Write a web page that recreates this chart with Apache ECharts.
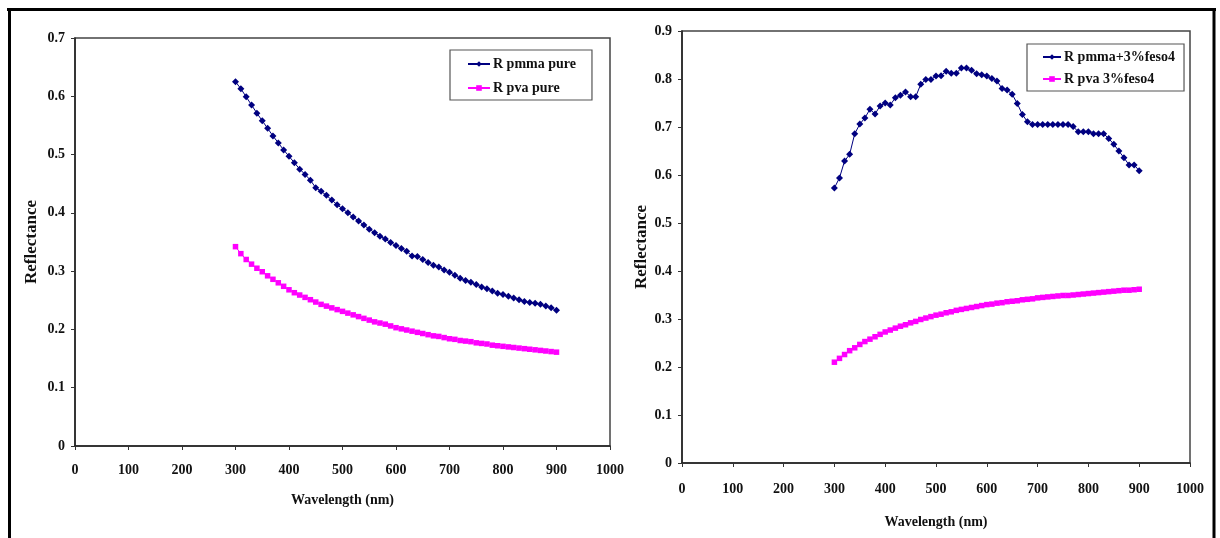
<!DOCTYPE html>
<html>
<head>
<meta charset="utf-8">
<script src="https://cdn.jsdelivr.net/npm/echarts@6/dist/echarts.min.js"></script>
<style>
html,body{margin:0;padding:0;background:#fff;}
#c{width:1220px;height:538px;}
</style>
</head>
<body>
<div id="c"></div>
<script>
// Wavelengths (nm)
var wavelengths = [300,310,320,330,340,350,360,370,380,390,400,410,420,430,440,450,460,470,480,490,500,510,520,530,540,550,560,570,580,590,600,610,620,630,640,650,660,670,680,690,700,710,720,730,740,750,760,770,780,790,800,810,820,830,840,850,860,870,880,890,900];

// Left panel
var pmmaPure = [0.625,0.613,0.599,0.585,0.571,0.558,0.545,0.532,0.520,0.508,0.497,0.486,0.475,0.466,0.456,0.443,0.437,0.430,0.422,0.414,0.407,0.400,0.393,0.386,0.379,0.372,0.366,0.360,0.355,0.349,0.344,0.339,0.334,0.326,0.325,0.320,0.315,0.310,0.307,0.302,0.298,0.293,0.288,0.284,0.281,0.277,0.273,0.270,0.266,0.262,0.260,0.257,0.254,0.251,0.248,0.246,0.245,0.243,0.240,0.237,0.233];
var pvaPure = [0.342,0.330,0.320,0.312,0.305,0.299,0.292,0.286,0.280,0.274,0.268,0.263,0.259,0.255,0.251,0.247,0.243,0.240,0.237,0.234,0.231,0.228,0.225,0.222,0.219,0.216,0.213,0.211,0.209,0.206,0.203,0.201,0.199,0.197,0.195,0.193,0.191,0.189,0.188,0.186,0.184,0.183,0.181,0.180,0.179,0.177,0.176,0.175,0.173,0.172,0.171,0.170,0.169,0.168,0.167,0.166,0.165,0.164,0.163,0.162,0.161];

// Right panel
var pmmaFeso4 = [0.573,0.594,0.629,0.643,0.686,0.706,0.719,0.737,0.727,0.744,0.750,0.746,0.761,0.766,0.773,0.763,0.763,0.789,0.799,0.799,0.806,0.807,0.816,0.812,0.812,0.823,0.823,0.818,0.811,0.809,0.806,0.801,0.796,0.780,0.777,0.768,0.749,0.726,0.711,0.705,0.705,0.705,0.705,0.705,0.705,0.705,0.705,0.701,0.690,0.690,0.690,0.686,0.686,0.686,0.676,0.664,0.650,0.636,0.621,0.621,0.609];
var pvaFeso4 = [0.210,0.218,0.226,0.234,0.240,0.247,0.253,0.258,0.263,0.268,0.273,0.277,0.281,0.285,0.288,0.292,0.295,0.299,0.302,0.305,0.308,0.310,0.313,0.315,0.318,0.320,0.322,0.324,0.326,0.328,0.330,0.331,0.333,0.334,0.336,0.337,0.338,0.340,0.341,0.342,0.344,0.345,0.346,0.347,0.348,0.349,0.349,0.350,0.351,0.352,0.353,0.354,0.355,0.356,0.357,0.358,0.359,0.360,0.360,0.361,0.362];

var seriesNames = ['R pmma pure','R pva pure','R pmma+3%feso4','R pva 3%feso4'];
var xTitle = 'Wavelength (nm)';
var yTitle = 'Reflectance';

var FONT = "'Liberation Serif','Times New Roman',serif";
var NAVY = '#000080', MAG = '#ff00ff';

function pairs(v){ return wavelengths.map(function(w,i){ return [w, v[i]]; }); }

function xAx(idx, margin, gap){
  return {
    gridIndex: idx, type:'value', min:0, max:1000, interval:100,
    name: xTitle, nameLocation:'middle', nameGap: gap,
    nameTextStyle:{fontFamily:FONT, fontWeight:'bold', fontSize:14, color:'#111'},
    axisLine:{show:true, onZero:false, lineStyle:{color:'#222', width:1.5}},
    axisTick:{show:true, length:4, lineStyle:{color:'#333'}},
    axisLabel:{margin: margin, fontFamily:FONT, fontWeight:'bold', fontSize:14, color:'#111',
      formatter:function(v){ return String(v); }},
    splitLine:{show:false}
  };
}
function yAx(idx, max, gap){
  return {
    gridIndex: idx, type:'value', min:0, max:max, interval:0.1,
    name: yTitle, nameLocation:'middle', nameGap: gap, nameRotate:90,
    nameTextStyle:{fontFamily:FONT, fontWeight:'bold', fontSize:17, color:'#111'},
    axisLine:{show:true, onZero:false, lineStyle:{color:'#222', width:1.5}},
    axisTick:{show:true, length:4, lineStyle:{color:'#333'}},
    axisLabel:{margin:10, fontFamily:FONT, fontWeight:'bold', fontSize:14, color:'#111',
      formatter:function(v){ return v===0 ? '0' : (+v.toFixed(1)).toString(); }},
    splitLine:{show:false}
  };
}
function ser(name, data, idx, color, symbol, size){
  return {
    name:name, type:'line', xAxisIndex:idx, yAxisIndex:idx, data:pairs(data),
    symbol:symbol, symbolSize:size, showSymbol:true, animation:false,
    lineStyle:{color:color, width:1}, itemStyle:{color:color}
  };
}

var chart = echarts.init(document.getElementById('c'), null, {renderer:'canvas'});
chart.setOption({
  backgroundColor:'#fff',
  animation:false,
  grid:[
    {left:75, top:38, width:535, height:408, show:true, borderColor:'#444', borderWidth:1.5, backgroundColor:'transparent'},
    {left:682, top:31, width:508, height:432, show:true, borderColor:'#444', borderWidth:1.5, backgroundColor:'transparent'}
  ],
  xAxis:[xAx(0,17,47), xAx(1,19,52)],
  yAxis:[yAx(0,0.7,35), yAx(1,0.9,32)],
  legend:[
    {data:[seriesNames[0],seriesNames[1]], left:450, top:50, orient:'vertical',
     padding:[7,16,5,17], itemGap:10, itemWidth:22, itemHeight:7,
     borderColor:'#555', borderWidth:1.2, backgroundColor:'#fff',
     textStyle:{fontFamily:FONT, fontWeight:'bold', fontSize:14, color:'#111', padding:[0,0,0,-2]}},
    {data:[seriesNames[2],seriesNames[3]], left:1027, top:44, orient:'vertical',
     padding:[6,9,5,15], itemGap:8, itemWidth:18, itemHeight:7,
     borderColor:'#555', borderWidth:1.2, backgroundColor:'#fff',
     textStyle:{fontFamily:FONT, fontWeight:'bold', fontSize:14, color:'#111', padding:[0,0,0,-2]}}
  ],
  series:[
    ser(seriesNames[0], pmmaPure, 0, NAVY, 'diamond', 7),
    ser(seriesNames[1], pvaPure, 0, MAG, 'rect', 5.5),
    ser(seriesNames[2], pmmaFeso4, 1, NAVY, 'diamond', 7),
    ser(seriesNames[3], pvaFeso4, 1, MAG, 'rect', 5.5)
  ],
  graphic:[
    {type:'line', shape:{x1:7, y1:9.5, x2:1216, y2:9.5}, style:{stroke:'#000', lineWidth:3}, silent:true},
    {type:'line', shape:{x1:9.5, y1:8, x2:9.5, y2:538}, style:{stroke:'#000', lineWidth:3}, silent:true},
    {type:'line', shape:{x1:1214, y1:8, x2:1214, y2:538}, style:{stroke:'#000', lineWidth:3}, silent:true}
  ]
});
</script>
</body>
</html>
